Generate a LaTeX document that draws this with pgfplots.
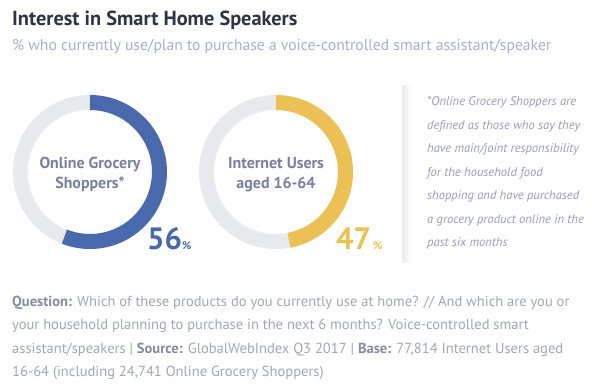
\documentclass[border=0pt]{standalone}
\usepackage{pgfplots}
\pgfplotsset{compat=1.18}
\usepackage{fontspec}
\setmainfont{PT Sans}
\definecolor{titlec}{HTML}{2E3440}
\definecolor{subc}{HTML}{A7B0C4}
\definecolor{labc}{HTML}{7B7F9E}
\definecolor{blueC}{HTML}{4A68AC}
\definecolor{yelC}{HTML}{EBC055}
\definecolor{ringC}{HTML}{E7E9EC}
\definecolor{notec}{HTML}{9A9CB6}
\definecolor{footc}{HTML}{A3A7B0}
\definecolor{footb}{HTML}{878C9C}
\tikzset{note/.style={anchor=base west, inner sep=0, text=notec, font=\fontsize{12.6}{15}\selectfont\itshape},
  foot/.style={anchor=base west, inner sep=0, text=footc, font=\fontsize{14.6}{17}\selectfont},
  lab/.style={anchor=base, inner sep=0, text=labc, font=\fontsize{16}{19}\selectfont\bfseries}}
\begin{document}
\begin{tikzpicture}
\begin{axis}[width=592bp,height=388bp,scale only axis,
  xmin=0,xmax=592,ymin=0,ymax=388,y dir=reverse,hide axis,clip=false]
\path[fill=white] (axis cs:0,0) rectangle (axis cs:592,388);
% donuts: center x, center y, percentage
\addplot[only marks, mark=*, mark size=0pt, draw=none, fill=none, scatter,
  visualization depends on={\thisrow{pct} \as \pct},
  scatter/@pre marker code/.code={%
    \fill[ringC, even odd rule] (0,0) circle[radius=77bp] (0,0) circle[radius=62bp];
    \draw[black!6, line width=1.2bp] (0,0) circle[radius=62.6bp];
    \draw[blueC, line width=15bp] (90:69.5bp) arc[start angle=90, delta angle=-3.6*\pct, radius=69.5bp];
  },
  scatter/@post marker code/.code={}]
  table {
x y pct
90 172 56
};
\addplot[only marks, mark=*, mark size=0pt, draw=none, fill=none, scatter,
  visualization depends on={\thisrow{pct} \as \pct},
  scatter/@pre marker code/.code={%
    \fill[ringC, even odd rule] (0,0) circle[radius=77bp] (0,0) circle[radius=62bp];
    \draw[black!6, line width=1.2bp] (0,0) circle[radius=62.6bp];
    \draw[yelC, line width=15bp] (90:69.5bp) arc[start angle=90, delta angle=-3.6*\pct, radius=69.5bp];
  },
  scatter/@post marker code/.code={}]
  table {
x y pct
276 172 47
};
% titles
\node[anchor=base west, inner sep=0, text=titlec, font=\fontsize{20.4}{23}\selectfont\bfseries] at (axis cs:12,26) {Interest in Smart Home Speakers};
\node[anchor=base west, inner sep=0, text=subc, font=\fontsize{15.7}{18}\selectfont] at (axis cs:12,50) {\% who currently use/plan to purchase a voice-controlled smart assistant/speaker};
% donut labels
\node[lab] at (axis cs:90,168) {Online Grocery};
\node[lab] at (axis cs:90,188) {Shoppers*};
\node[lab] at (axis cs:276,168) {Internet Users};
\node[lab] at (axis cs:276,188) {aged 16-64};
\node[anchor=base west, inner sep=0, text=blueC, font=\bfseries] at (axis cs:147,249) {{\fontsize{31}{31}\selectfont 56}{\fontsize{11}{11}\selectfont\%}};
\node[anchor=base west, inner sep=0, text=yelC, font=\bfseries] at (axis cs:336,249) {{\fontsize{31}{31}\selectfont 47}{\fontsize{11}{11}\selectfont\,\%}};
% footnote
\shade[left color=black!8, right color=white] (axis cs:402,85) rectangle (axis cs:412,262);
\node[note] at (axis cs:427,105.5) {*Online Grocery Shoppers are};
\node[note] at (axis cs:427,129) {defined as those who say they};
\node[note] at (axis cs:427,152.5) {have main/joint responsibility};
\node[note] at (axis cs:427,176) {for the household food};
\node[note] at (axis cs:427,199.5) {shopping and have purchased};
\node[note] at (axis cs:427,223) {a grocery product online in the};
\node[note] at (axis cs:427,246.5) {past six months};
% bottom text
\node[foot] at (axis cs:12,306) {{\bfseries\color{footb}Question:} Which of these products do you currently use at home? // And which are you or};
\node[foot] at (axis cs:12,329.5) {your household planning to purchase in the next 6 months? Voice-controlled smart};
\node[foot] at (axis cs:12,353) {assistant/speakers | {\bfseries\color{footb}Source:} GlobalWebIndex Q3 2017 | {\bfseries\color{footb}Base:} 77,814 Internet Users aged};
\node[foot] at (axis cs:12,376.5) {16-64 (including 24,741 Online Grocery Shoppers)};
\end{axis}
\end{tikzpicture}
\end{document}
